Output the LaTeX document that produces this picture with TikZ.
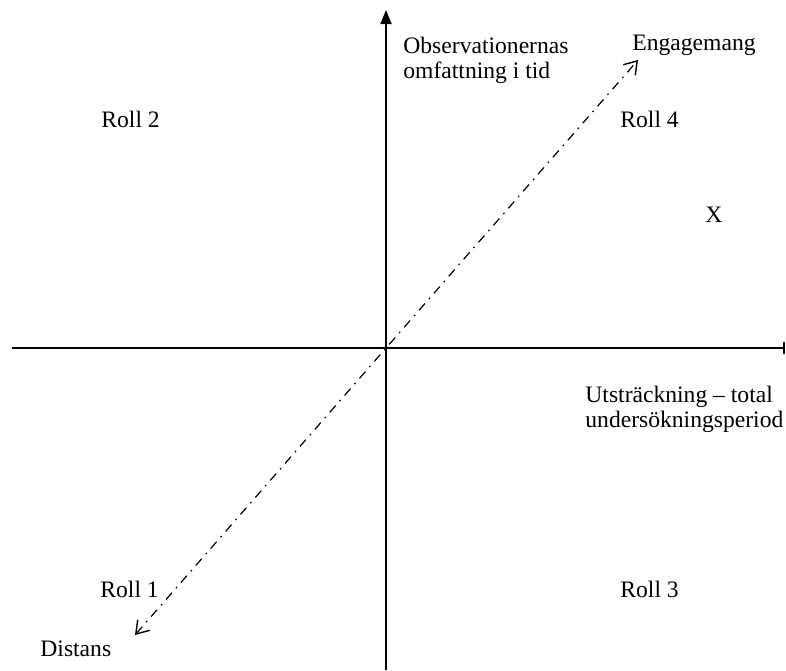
\documentclass[tikz,border=0pt]{standalone}
\usepackage{fontspec}
\setmainfont{Liberation Serif}
\usetikzlibrary{arrows.meta}
\begin{document}
\begin{tikzpicture}[x=0.5pt,y=-0.5pt,
  lbl/.style={anchor=base west,inner sep=0pt,font=\fontsize{11.8}{12.5}\selectfont,align=left},
  axis/.style={line width=0.9pt},
  barb/.tip={Straight Barb[length=6pt,width=8pt,line width=0.7pt]},
  diag/.style={line width=0.6pt,dash pattern=on 4.5pt off 3pt on 0.8pt off 3pt,
     barb-barb}]
\useasboundingbox (0,0) rectangle (786,670);
\coordinate (vb) at (386,670);
\coordinate (vt) at (386,10);
\coordinate (hl) at (12,348);
\coordinate (hr) at (785,348);
\coordinate (dl) at (135,635);
\coordinate (dr) at (638,60);
\draw[axis,-{Triangle[length=7pt,width=5.5pt]}] (vb) -- (vt);
\draw[axis,-{Bar[width=6pt]}] (hl) -- (hr);
\draw[diag] (dl) -- (dr);
\node[lbl] (obs) at (403,78) {Observationernas\\omfattning i tid};
\node[lbl] (eng) at (632,50) {Engagemang};
\node[lbl] (r2) at (101,127) {Roll 2};
\node[lbl] (r4) at (620,127) {Roll 4};
\node[lbl] (x) at (705,222) {X};
\node[lbl] (utst) at (585,427) {Utsträckning – total\\undersökningsperiod};
\node[lbl] (r1) at (100,597) {Roll 1};
\node[lbl] (r3) at (620,597) {Roll 3};
\node[lbl] (dis) at (40,656) {Distans};
\end{tikzpicture}
\end{document}
